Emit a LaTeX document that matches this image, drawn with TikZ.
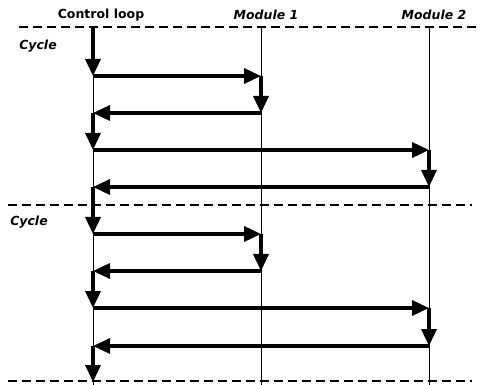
\documentclass[tikz,border=0pt]{standalone}
\usepackage{fontspec}
\setmainfont{DejaVu Sans}
\usetikzlibrary{arrows.meta}
\begin{document}
\begin{tikzpicture}[x=1pt,y=-1pt,
  sep/.style={line width=1.2pt,dash pattern=on 9pt off 5pt},
  life/.style={line width=0.7pt},
  msg/.style={line width=3.5pt,-{Triangle[length=17pt,width=15pt]}},
  lbl/.style={font=\bfseries\fontsize{12.5}{14}\selectfont,inner sep=0pt},
  ilbl/.style={font=\bfseries\itshape\fontsize{12.5}{14}\selectfont,inner sep=0pt}]
\useasboundingbox (0,0) rectangle (504,385);
% labels
\node[lbl] (hc) at (101,15) {Control loop};
\node[ilbl] (h1) at (266,15) {Module 1};
\node[ilbl] (h2) at (434,15) {Module 2};
\node[ilbl] (cy1) at (38,46) {Cycle};
\node[ilbl] (cy2) at (29,222) {Cycle};
% separators
\coordinate (s1a) at (19,27); \coordinate (s1b) at (476,27);
\coordinate (s2a) at (8,205); \coordinate (s2b) at (472,205);
\coordinate (s3a) at (8,381); \coordinate (s3b) at (472,381);
\draw[sep] (s1a) -- (s1b);
\draw[sep] (s2a) -- (s2b);
\draw[sep] (s3a) -- (s3b);
% lifelines
\coordinate (lc0) at (93,27); \coordinate (lc1) at (93,385);
\coordinate (l10) at (261,27); \coordinate (l11) at (261,385);
\coordinate (l20) at (429,27); \coordinate (l21) at (429,385);
\draw[life] (lc0) -- (lc1);
\draw[life] (l10) -- (l11);
\draw[life] (l20) -- (l21);
% events
\coordinate (c0) at (93,28);
\coordinate (c1) at (93,76);
\coordinate (a1) at (261,76);
\coordinate (a2) at (261,113);
\coordinate (c2) at (93,113);
\coordinate (c3) at (93,150);
\coordinate (b1) at (429,150);
\coordinate (b2) at (429,187);
\coordinate (c4) at (93,187);
\coordinate (c5) at (93,234);
\coordinate (a3) at (261,234);
\coordinate (a4) at (261,271);
\coordinate (c6) at (93,271);
\coordinate (c7) at (93,308);
\coordinate (b3) at (429,308);
\coordinate (b4) at (429,346);
\coordinate (c8) at (93,346);
\coordinate (c9) at (93,382);
\draw[msg] (c0) -- (c1);
\draw[msg] (c1) -- (a1);
\draw[msg] (a1) -- (a2);
\draw[msg] (a2) -- (c2);
\draw[msg] (c2) -- (c3);
\draw[msg] (c3) -- (b1);
\draw[msg] (b1) -- (b2);
\draw[msg] (b2) -- (c4);
\draw[msg] (c4) -- (c5);
\draw[msg] (c5) -- (a3);
\draw[msg] (a3) -- (a4);
\draw[msg] (a4) -- (c6);
\draw[msg] (c6) -- (c7);
\draw[msg] (c7) -- (b3);
\draw[msg] (b3) -- (b4);
\draw[msg] (b4) -- (c8);
\draw[msg] (c8) -- (c9);
\end{tikzpicture}
\end{document}
